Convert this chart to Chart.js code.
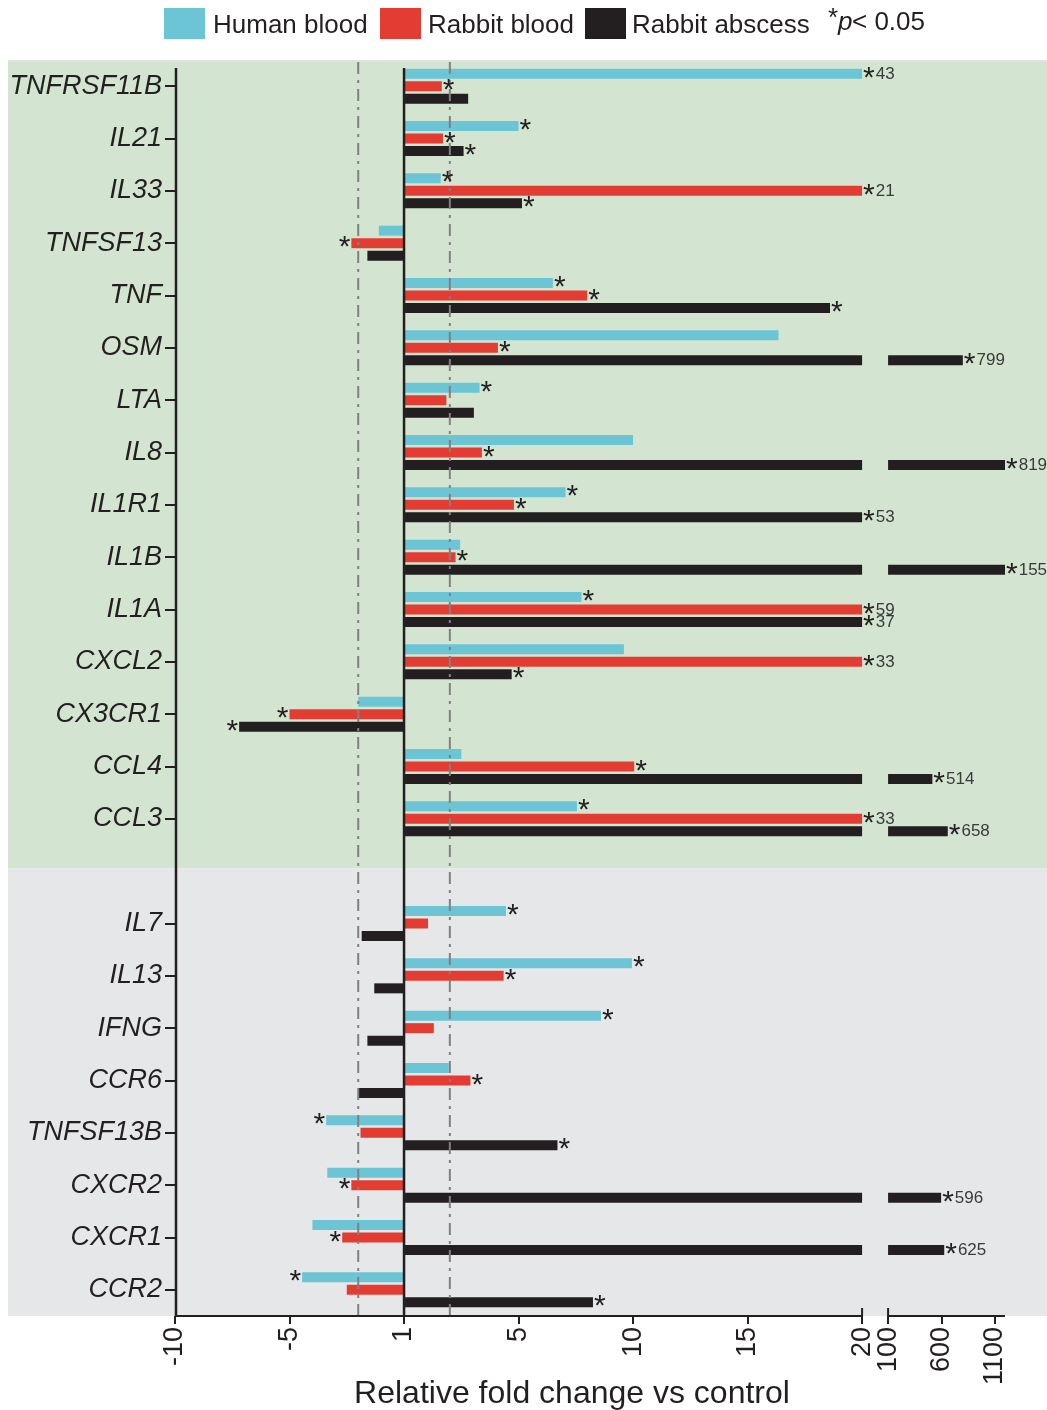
<!DOCTYPE html>
<html>
<head>
<meta charset="utf-8">
<script src="https://cdn.jsdelivr.net/npm/chart.js@4.4.0/dist/chart.umd.min.js"></script>
<style>
  html, body { margin: 0; padding: 0; background: #fff; }
  #wrap { width: 1047px; height: 1410px; }
</style>
</head>
<body>
<div id="wrap"><canvas id="foldChart" width="1047" height="1410"></canvas></div>
<script>
// ======== Data ========
// "" is the empty row between the two groups
const genes = [
  "TNFRSF11B", "IL21", "IL33", "TNFSF13", "TNF", "OSM", "LTA", "IL8", "IL1R1",
  "IL1B", "IL1A", "CXCL2", "CX3CR1", "CCL4", "CCL3", "",
  "IL7", "IL13", "IFNG", "CCR6", "TNFSF13B", "CXCR2", "CXCR1", "CCR2"
];

// values on the axis (the "1" tick sits on zero); above 20 = real fold change
const humanBlood = [43, 5.0, 1.6, -1.1, 6.5, 16.35, 3.3, 10.0, 7.05, 2.45, 7.75, 9.6, -2.0, 2.5, 7.55, null,
  4.45, 9.95, 8.6, 1.95, -3.4, -3.35, -4.0, -4.45];
const rabbitBlood = [1.65, 1.7, 21, -2.3, 8.0, 4.1, 1.85, 3.4, 4.8, 2.25, 59, 33, -5.0, 10.05, 33, null,
  1.05, 4.35, 1.3, 2.9, -1.9, -2.3, -2.7, -2.5];
const rabbitAbscess = [2.8, 2.6, 5.15, -1.6, 18.6, 799, 3.05, 8196, 53, 1559, 37, 4.7, -7.2, 514, 658, null,
  -1.85, -1.3, -1.6, -2.0, 6.7, 596, 625, 8.25];

// p < 0.05 flags
const humanSig = [1, 1, 1, 0, 1, 0, 1, 0, 1, 0, 1, 0, 0, 0, 1, 0, 1, 1, 1, 0, 1, 0, 0, 1];
const rabbitBloodSig = [1, 1, 1, 1, 1, 1, 0, 1, 1, 1, 1, 1, 1, 1, 1, 0, 0, 1, 0, 1, 0, 1, 1, 0];
const rabbitAbscessSig = [0, 1, 1, 0, 1, 1, 0, 1, 1, 1, 1, 1, 1, 1, 1, 0, 0, 0, 0, 0, 1, 1, 1, 1];

const xTickLabels = [-10, -5, 1, 5, 10, 15, 20, 100, 600, 1100];
const thresholds = [-2, 2];

// -------------------------
// Broken axis helpers
// -------------------------
const X_MIN = -10;
const X_MAX = 26.24;
const BREAK_GAP = 1.135;     // axis units between 20 and 100
const UPPER_SCALE = 0.00467; // axis units per fold above 100

function toAxis(v) {
  if (v <= 20) return v;
  if (v < 100) return 20;
  return Math.min(20 + BREAK_GAP + (v - 100) * UPPER_SCALE, X_MAX);
}
function tickPos(t) {
  return t === 1 ? 0 : toAxis(t);
}

const colors = ["#6bc5d5", "#e33d33", "#231f20"];
const seriesNames = ["Human blood", "Rabbit blood", "Rabbit abscess"];
const series = [humanBlood, rabbitBlood, rabbitAbscess];
const sigs = [humanSig, rabbitBloodSig, rabbitAbscessSig];
const stacks = ["h", "r", "a"];
const FONT = "'Liberation Sans', Arial, sans-serif";
const INK = "#231f20";

const datasets = [];
series.forEach((vals, i) => {
  datasets.push({
    label: seriesNames[i],
    data: vals.map((v) => (v == null ? null : Math.min(v, 20))),
    backgroundColor: colors[i],
    stack: stacks[i],
  });
});
// part of the bar past the break
series.forEach((vals, i) => {
  datasets.push({
    label: seriesNames[i] + " tail",
    data: vals.map((v) => (v != null && v >= 100 ? [toAxis(100), toAxis(v)] : null)),
    backgroundColor: colors[i],
    stack: stacks[i],
  });
});

// -------------------------
// Plugins
// -------------------------
const backgroundPlugin = {
  id: "bands",
  beforeDraw(chart) {
    const { ctx, chartArea, scales } = chart;
    const gapY = scales.y.getPixelForValue(genes.indexOf("")) - 3;
    ctx.save();
    ctx.fillStyle = "#d3e5d1";
    ctx.fillRect(8, chartArea.top + 2, chart.width - 8, gapY - chartArea.top - 2);
    ctx.fillStyle = "#e6e7e8";
    ctx.fillRect(8, gapY, chart.width - 8, chartArea.bottom - gapY);
    ctx.fillStyle = "#e2e2e2";
    ctx.fillRect(8, chartArea.top, chart.width - 8, 2);
    ctx.restore();
  },
};

const overlayPlugin = {
  id: "overlay",
  afterDatasetsDraw(chart) {
    const { ctx, chartArea, scales } = chart;
    const x = scales.x;
    const top = chartArea.top + 8;
    const bottom = chartArea.bottom;
    ctx.save();

    // dashed threshold lines
    ctx.strokeStyle = "#808080";
    ctx.lineWidth = 2;
    ctx.setLineDash([12, 6, 3, 6]);
    thresholds.forEach((t) => {
      const px = x.getPixelForValue(t);
      ctx.beginPath();
      ctx.moveTo(px, chartArea.top + 2);
      ctx.lineTo(px, bottom);
      ctx.stroke();
    });
    ctx.setLineDash([]);

    // zero line and y axis
    ctx.strokeStyle = INK;
    ctx.lineWidth = 2.5;
    [x.getPixelForValue(0), x.getPixelForValue(X_MIN) + 1].forEach((px) => {
      ctx.beginPath();
      ctx.moveTo(px, top);
      ctx.lineTo(px, bottom);
      ctx.stroke();
    });

    // broken x axis line
    ctx.lineWidth = 2;
    const segs = [[X_MIN, 20], [toAxis(100), X_MAX]];
    segs.forEach(([a, b]) => {
      ctx.beginPath();
      ctx.moveTo(x.getPixelForValue(a), bottom);
      ctx.lineTo(x.getPixelForValue(b), bottom);
      ctx.stroke();
    });
    [20, toAxis(100)].forEach((v) => {
      const px = x.getPixelForValue(v);
      ctx.beginPath();
      ctx.moveTo(px, bottom - 8);
      ctx.lineTo(px, bottom);
      ctx.stroke();
    });

    // asterisks and fold numbers
    series.forEach((vals, i) => {
      const mainMeta = chart.getDatasetMeta(i);
      const tailMeta = chart.getDatasetMeta(i + 3);
      vals.forEach((v, j) => {
        if (v == null) return;
        const el = v >= 100 ? tailMeta.data[j] : mainMeta.data[j];
        if (!el) return;
        const end = el.x;
        const cy = el.y;
        let cursor;
        ctx.textBaseline = "alphabetic";
        if (sigs[i][j]) {
          ctx.font = "30px " + FONT;
          ctx.fillStyle = INK;
          if (v < 0) {
            ctx.textAlign = "right";
            ctx.fillText("*", end - 1, cy + 13);
          } else {
            ctx.textAlign = "left";
            ctx.fillText("*", end + 1, cy + 13);
          }
          cursor = end + 2 + ctx.measureText("*").width;
        } else {
          cursor = end + 3;
        }
        if (v > 20) {
          ctx.font = "17px " + FONT;
          ctx.fillStyle = "#3a3a3a";
          ctx.textAlign = "left";
          ctx.fillText(String(v), cursor, cy + 5);
        }
      });
    });
    ctx.restore();
  },
  afterDraw(chart) {
    const { ctx } = chart;
    ctx.save();
    // legend
    const items = [
      { x: 164, tx: 213 },
      { x: 380, tx: 428 },
      { x: 585, tx: 632 },
    ];
    ctx.font = "26px " + FONT;
    ctx.textBaseline = "alphabetic";
    ctx.textAlign = "left";
    items.forEach((it, i) => {
      ctx.fillStyle = colors[i];
      ctx.fillRect(it.x, 8, 41, 31);
      ctx.fillStyle = INK;
      ctx.fillText(seriesNames[i], it.tx, 33);
    });
    ctx.fillText("*", 828, 26);
    ctx.font = "italic 26px " + FONT;
    ctx.fillText("p", 838, 30);
    ctx.font = "26px " + FONT;
    ctx.fillText("< 0.05", 852, 30);

    // axis title
    ctx.font = "32px " + FONT;
    ctx.textAlign = "center";
    ctx.fillText("Relative fold change vs control", 572, 1403);
    ctx.restore();
  },
};

// -------------------------
// Chart
// -------------------------
new Chart(document.getElementById("foldChart").getContext("2d"), {
  type: "bar",
  data: { labels: genes, datasets },
  options: {
    responsive: false,
    animation: false,
    indexAxis: "y",
    layout: { padding: { top: 60, right: 42, left: 0, bottom: 0 } },
    datasets: {
      bar: { categoryPercentage: 0.717, barPercentage: 0.8, borderWidth: 0 },
    },
    plugins: {
      legend: { display: false },
      tooltip: { enabled: false },
    },
    scales: {
      x: {
        type: "linear",
        min: X_MIN,
        max: X_MAX,
        stacked: false,
        border: { display: false },
        grid: {
          drawOnChartArea: false,
          tickLength: 8,
          color: INK,
          lineWidth: 2,
        },
        ticks: {
          autoSkip: false,
          minRotation: 90,
          maxRotation: 90,
          padding: 3,
          color: INK,
          font: { family: FONT, size: 27 },
          callback: (val, idx) => String(xTickLabels[idx]),
        },
        afterBuildTicks: (scale) => {
          scale.ticks = xTickLabels.map((t) => ({ value: tickPos(t) }));
        },
        afterFit: (scale) => {
          scale.height = 94;
        },
      },
      y: {
        border: { display: false },
        grid: {
          offset: false,
          drawOnChartArea: false,
          tickLength: 10,
          lineWidth: 2,
          color: (c) => (genes[c.index] ? INK : "rgba(0,0,0,0)"),
        },
        ticks: {
          padding: 3,
          color: INK,
          font: { family: FONT, size: 27, style: "italic" },
        },
        afterFit: (scale) => {
          scale.width = 175;
        },
      },
    },
  },
  plugins: [backgroundPlugin, overlayPlugin],
});
</script>
</body>
</html>
